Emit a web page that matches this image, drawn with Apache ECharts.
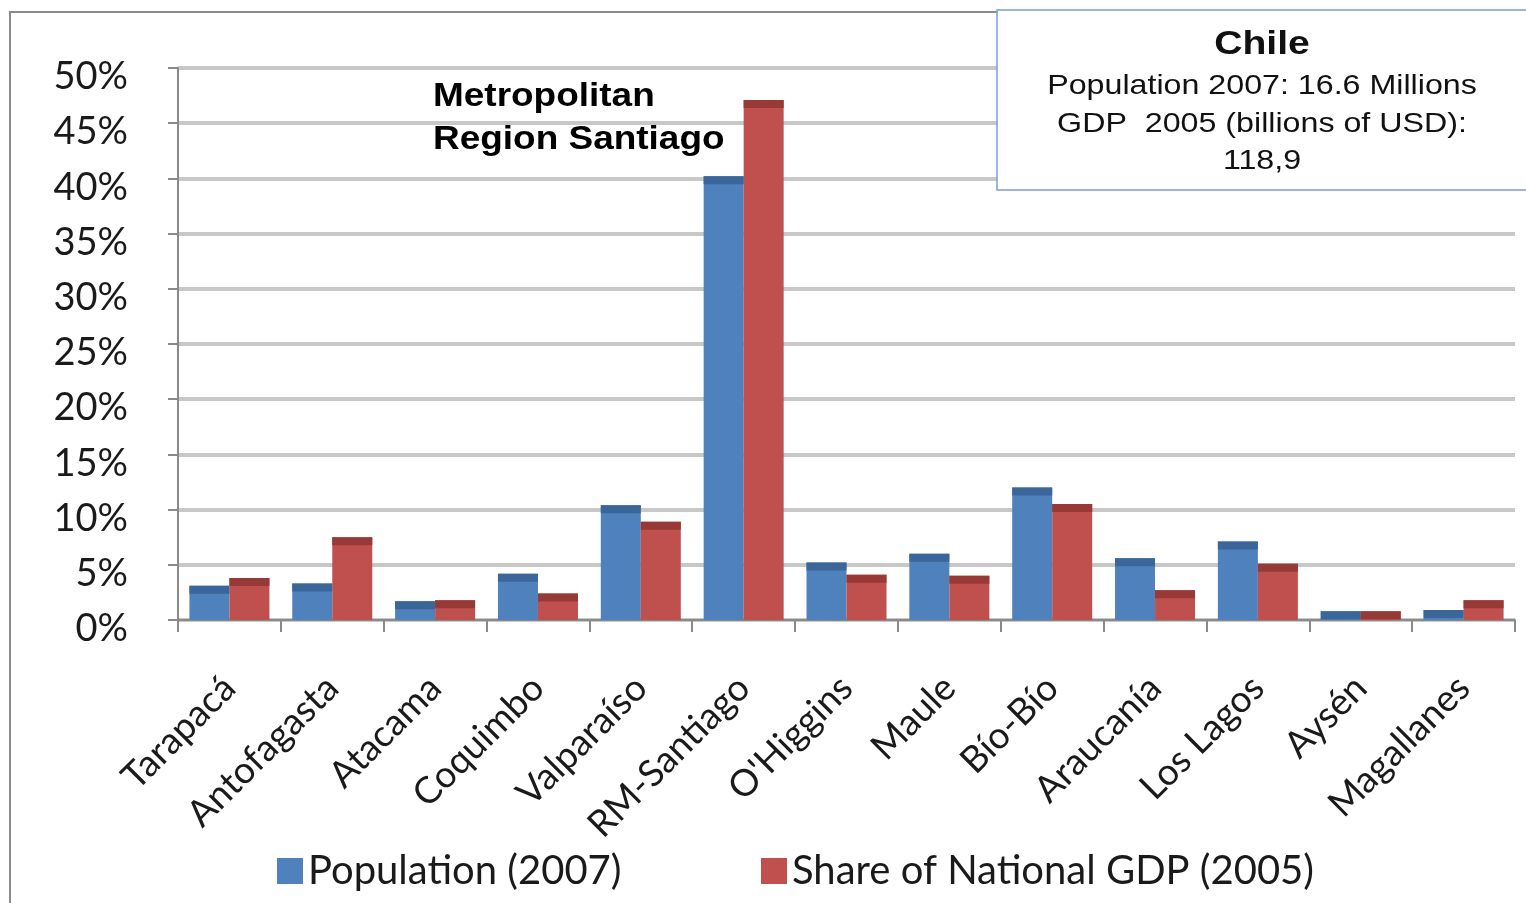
<!DOCTYPE html>
<html>
<head>
<meta charset="utf-8">
<script src="https://cdn.jsdelivr.net/npm/echarts@6/dist/echarts.min.js"></script>
<style>html,body{margin:0;padding:0;background:#fff;}#c{width:1526px;height:903px;}</style>
</head>
<body>
<div id="c"></div>
<script>
const categories = ['Tarapacá','Antofagasta','Atacama','Coquimbo','Valparaíso','RM-Santiago',"O'Higgins",'Maule','Bío-Bío','Araucanía','Los Lagos','Aysén','Magallanes'];
const population = [3.1, 3.3, 1.7, 4.2, 10.4, 40.2, 5.2, 6.0, 12.0, 5.6, 7.1, 0.8, 0.9];
const gdpShare = [3.8, 7.5, 1.8, 2.4, 8.9, 47.1, 4.1, 4.0, 10.5, 2.7, 5.1, 0.8, 1.8];
const seriesNames = ['Population (2007)', 'Share of National GDP (2005)'];
const boxLines = ['Population 2007: 16.6 Millions', 'GDP  2005 (billions of USD):', '118,9'];

const chart = echarts.init(document.getElementById('c'), null, {renderer: 'canvas'});
const BW = 40;
const SX = 1.15;
const SX2 = 1.12;
const option = {
  animation: false,
  backgroundColor: '#ffffff',
  grid: {left: 178, right: 11, top: 68, bottom: 283, containLabel: false},
  xAxis: {
    type: 'category',
    data: categories,
    axisLine: {show: true, lineStyle: {color: '#8a8a8a', width: 2}},
    axisTick: {show: true, length: 12, lineStyle: {color: '#8a8a8a', width: 2}},
    axisLabel: {rotate: 45, margin: 62, fontFamily: 'Lato', fontSize: 37, color: '#1a1a1a', interval: 0}
  },
  yAxis: {
    type: 'value',
    min: 0, max: 50, interval: 5,
    axisLine: {show: true, lineStyle: {color: '#8a8a8a', width: 2}},
    axisTick: {show: true, length: 10, lineStyle: {color: '#8a8a8a', width: 2}},
    splitLine: {show: true, lineStyle: {color: '#c8c8c8', width: 4}},
    axisLabel: {formatter: '{value}%', margin: 50, fontFamily: 'Lato', fontSize: 38, color: '#1a1a1a',
                verticalAlign: 'top', lineHeight: 18}
  },
  legend: [
    {data: [seriesNames[0]], left: 272, top: 846, icon: 'rect', itemWidth: 26, itemHeight: 26, itemGap: 10,
     textStyle: {fontFamily: 'Lato', fontSize: 40, color: '#1a1a1a'}},
    {data: [seriesNames[1]], left: 756, top: 846, icon: 'rect', itemWidth: 26, itemHeight: 26, itemGap: 10,
     textStyle: {fontFamily: 'Lato', fontSize: 40, color: '#1a1a1a'}}
  ],
  series: [
    {name: seriesNames[0], type: 'bar', data: population, barWidth: BW, barGap: '0%', itemStyle: {color: '#4f81bd'}, z: 2},
    {name: seriesNames[1], type: 'bar', data: gdpShare, barWidth: BW, barGap: '0%', itemStyle: {color: '#c0504d'}, z: 2},
    {name: 'capPop', type: 'pictorialBar', data: population, symbol: 'rect', symbolSize: [BW, 8], symbolPosition: 'end',
     symbolOffset: ['-50%', 0], itemStyle: {color: '#3b6699'}, z: 3, silent: true},
    {name: 'capGdp', type: 'pictorialBar', data: gdpShare, symbol: 'rect', symbolSize: [BW, 8], symbolPosition: 'end',
     symbolOffset: ['50%', 0], itemStyle: {color: '#973a37'}, z: 3, silent: true}
  ],
  graphic: [
    {type: 'rect', shape: {x: 10, y: 12, width: 1530, height: 910}, style: {fill: 'none', stroke: '#8c8c8c', lineWidth: 2}, z: 1, silent: true},
    {type: 'rect', shape: {x: 997, y: 10, width: 540, height: 180}, style: {fill: '#ffffff', stroke: '#7a9fd0', lineWidth: 1.5}, z: 100},
    {type: 'text', x: 1262, y: 45, scaleX: SX, style: {text: 'Chile', font: 'bold 34px "Liberation Sans"', fill: '#111', align: 'center', verticalAlign: 'middle'}, z: 101},
    {type: 'text', x: 1262, y: 86, scaleX: SX, style: {text: boxLines[0], font: '28px "Liberation Sans"', fill: '#111', align: 'center', verticalAlign: 'middle'}, z: 101},
    {type: 'text', x: 1262, y: 124, scaleX: SX, style: {text: boxLines[1], font: '28px "Liberation Sans"', fill: '#111', align: 'center', verticalAlign: 'middle'}, z: 101},
    {type: 'text', x: 1262, y: 161, scaleX: SX, style: {text: boxLines[2], font: '28px "Liberation Sans"', fill: '#111', align: 'center', verticalAlign: 'middle'}, z: 101},
    {type: 'text', x: 433, y: 97, scaleX: SX2, style: {text: 'Metropolitan', font: 'bold 33px "Liberation Sans"', fill: '#000', align: 'left', verticalAlign: 'middle'}, z: 101},
    {type: 'text', x: 433, y: 140, scaleX: SX2, style: {text: 'Region Santiago', font: 'bold 33px "Liberation Sans"', fill: '#000', align: 'left', verticalAlign: 'middle'}, z: 101}
  ]
};
chart.setOption(option);
</script>
</body>
</html>
